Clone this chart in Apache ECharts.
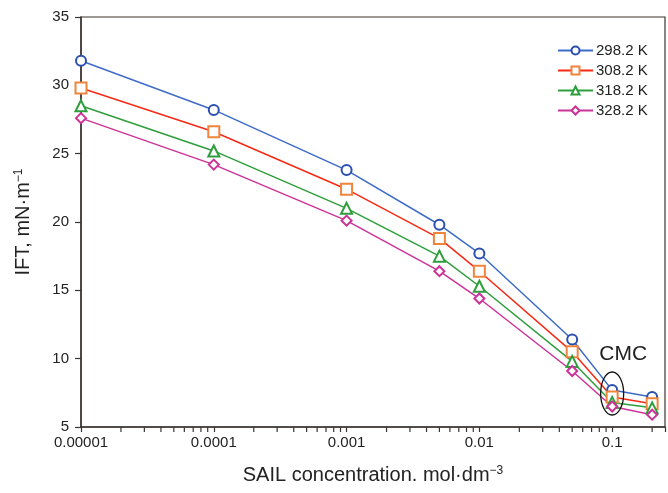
<!DOCTYPE html>
<html>
<head>
<meta charset="utf-8">
<script src="https://cdn.jsdelivr.net/npm/echarts@6/dist/echarts.min.js"></script>
<style>
html,body{margin:0;padding:0;background:#fff;}
#chart{width:668px;height:493px;}
</style>
</head>
<body>
<div id="chart"></div>
<script>
// ---- data ----
const concentrations = [0.00001, 0.0001, 0.001, 0.005, 0.01, 0.05, 0.1, 0.2];
const seriesNames = ['298.2 K', '308.2 K', '318.2 K', '328.2 K'];
const ift298 = [31.8, 28.2, 23.8, 19.8, 17.7, 11.4, 7.7, 7.2];
const ift308 = [29.8, 26.6, 22.4, 18.8, 16.4, 10.5, 7.2, 6.7];
const ift318 = [28.5, 25.2, 21.0, 17.5, 15.3, 9.8, 6.8, 6.4];
const ift328 = [27.6, 24.2, 20.1, 16.4, 14.4, 9.1, 6.5, 5.9];
const xTickLabels = ['0.00001', '0.0001', '0.001', '0.01', '0.1'];
const xMinorTicks = [];
[0.00001, 0.0001, 0.001, 0.01, 0.1].forEach(d => {
  for (let k = 2; k <= 9; k++) { const v = +(d * k).toPrecision(3); if (v <= 0.2) xMinorTicks.push(v); }
});
const cmcCenter = [0.1, 7.45];
const cmcLabelPos = [0.121, 10.3];
const cmcLabel = 'CMC';

const chart = echarts.init(document.getElementById('chart'));
const axisColor = '#3a3430';
const font = 'Liberation Sans, Arial, sans-serif';

function lineSeries(name, values, lineColor, markColor, symbol, size) {
  return {
    name: name, type: 'line',
    data: concentrations.map((c, i) => [c, values[i]]),
    symbol: symbol, symbolSize: size, showAllSymbol: true,
    lineStyle: { color: lineColor, width: 1.5 },
    itemStyle: { color: markColor, borderColor: markColor, borderWidth: 1.5 },
    emphasis: { disabled: true },
    z: 3
  };
}

const option = {
  backgroundColor: '#fff',
  animation: false,
  grid: { left: 81, right: 2, top: 17, bottom: 66, show: true, borderColor: axisColor, borderWidth: 1.2 },
  legend: {
    orient: 'vertical', left: 552, top: 38, itemGap: 5, itemWidth: 35, itemHeight: 10,
    data: seriesNames,
    textStyle: { fontSize: 15, color: '#222', fontFamily: font, padding: [0, 0, 0, -2] },
    selectedMode: false
  },
  xAxis: {
    type: 'log', logBase: 10, min: 0.00001, max: 0.25,
    axisLine: { show: true, lineStyle: { color: axisColor, width: 1.5 } },
    axisTick: { show: true, length: 5, inside: false, lineStyle: { color: axisColor, width: 1.2 } },
    splitLine: { show: false },
    axisLabel: {
      margin: 8, fontSize: 15, color: '#222', fontFamily: font,
      formatter: function (v) {
        const e = Math.log10(v);
        if (Math.abs(e - Math.round(e)) > 1e-6) return '';
        const idx = Math.round(e) + 5;
        return xTickLabels[idx] || '';
      }
    },
    name: 'SAIL concentration. mol·dm{sup|−3}',
    nameLocation: 'middle', nameGap: 38,
    nameTextStyle: { fontSize: 20, color: '#222', fontFamily: font,
      rich: { sup: { fontSize: 12, verticalAlign: 'top', padding: [0, 0, 8, 0], color: '#222', fontFamily: font } } }
  },
  yAxis: {
    type: 'value', min: 5, max: 35, interval: 5,
    axisLine: { show: true, lineStyle: { color: axisColor, width: 1.5 } },
    axisTick: { show: true, length: 6, lineStyle: { color: axisColor, width: 1.2 } },
    splitLine: { show: false },
    axisLabel: { margin: 12, fontSize: 15, color: '#222', fontFamily: font },
    name: 'IFT, mN·m{sup|−1}',
    nameLocation: 'middle', nameGap: 48, nameRotate: 90,
    nameTextStyle: { fontSize: 20, color: '#222', fontFamily: font,
      rich: { sup: { fontSize: 12, verticalAlign: 'top', padding: [0, 0, 8, 0], color: '#222', fontFamily: font } } }
  },
  series: [
    lineSeries(seriesNames[0], ift298, '#3D6CC8', '#2A4FB0', 'emptyCircle', 10),
    lineSeries(seriesNames[1], ift308, '#F52A14', '#F0843C', 'emptyRect', 11),
    lineSeries(seriesNames[2], ift318, '#2E9E3C', '#2E9E3C', 'emptyTriangle', 11),
    lineSeries(seriesNames[3], ift328, '#CC3399', '#CC3399', 'emptyDiamond', 10),
    {
      type: 'custom', name: 'minorTicks', silent: true, clip: false, z: 5,
      data: xMinorTicks.map(v => [v, 5]),
      renderItem: function (params, api) {
        const p = api.coord([api.value(0), api.value(1)]);
        return { type: 'line', shape: { x1: p[0], y1: p[1], x2: p[0], y2: p[1] + 5 },
          style: { stroke: axisColor, lineWidth: 1.2 } };
      }
    },
    {
      type: 'custom', name: 'cmc', silent: true, clip: false, z: 6,
      data: [cmcCenter.concat(cmcLabelPos)],
      renderItem: function (params, api) {
        const c = api.coord([api.value(0), api.value(1)]);
        const t = api.coord([api.value(2), api.value(3)]);
        return { type: 'group', children: [
          { type: 'ellipse', shape: { cx: c[0], cy: c[1], rx: 11.5, ry: 21.5 },
            style: { fill: 'none', stroke: '#111', lineWidth: 1.3 } },
          { type: 'text', x: t[0], y: t[1],
            style: { text: cmcLabel, fill: '#222', font: '21px ' + font, align: 'center', verticalAlign: 'middle' } }
        ] };
      }
    }
  ]
};
chart.setOption(option);
</script>
</body>
</html>
